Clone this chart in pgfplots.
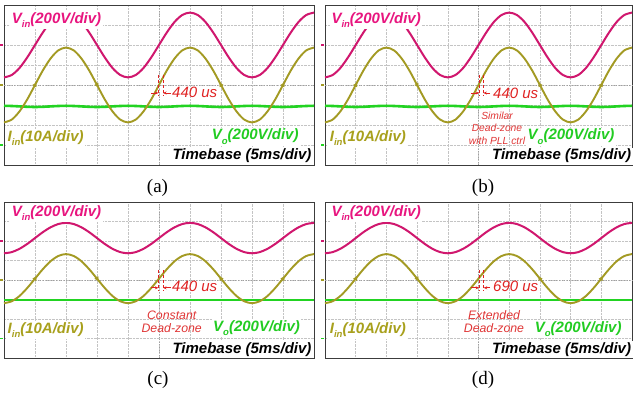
\documentclass[border=0pt]{standalone}
\usepackage{pgfplots}
\pgfplotsset{compat=1.18}
\usepackage{pgfplotstable}
\usepackage{fontspec}
\setmainfont{Liberation Serif}
\newfontfamily\arial{Liberation Sans}
\usetikzlibrary{arrows.meta}

\definecolor{vinc}{HTML}{D0176E}
\definecolor{vint}{HTML}{E8157F}
\definecolor{iinc}{HTML}{A39A23}
\definecolor{iint}{HTML}{A8A01C}
\definecolor{voc}{HTML}{22D322}
\definecolor{vot}{HTML}{22CC22}
\definecolor{redc}{HTML}{E02222}
\definecolor{redt}{HTML}{E03636}
\definecolor{framec}{HTML}{3C3C3C}
\definecolor{gridc}{HTML}{C4C4C4}

\newcommand\sub[1]{\raisebox{-0.28em}{\fontsize{9.5}{10}\selectfont #1}}
\newcommand\lab{\arial\fontsize{15}{15}\selectfont\bfseries\itshape}
\newcommand\ann{\arial\fontsize{15}{15}\selectfont\itshape}

% x (div), Vin, Iin, Vo  -- panels (a),(b)
\pgfplotstableread{
x vin iin vo
0.00 0.38 -1.87 -1.04
0.25 0.50 -1.73 -1.05
0.50 0.85 -1.32 -1.07
0.75 1.38 -0.72 -1.09
1.00 2.00 0.00 -1.10
1.25 2.62 0.72 -1.09
1.50 3.15 1.32 -1.07
1.75 3.50 1.73 -1.05
2.00 3.62 1.87 -1.04
2.25 3.50 1.73 -1.05
2.50 3.15 1.32 -1.07
2.75 2.62 0.72 -1.09
3.00 2.00 0.00 -1.10
3.25 1.38 -0.72 -1.09
3.50 0.85 -1.32 -1.07
3.75 0.50 -1.73 -1.05
4.00 0.38 -1.87 -1.04
4.25 0.50 -1.73 -1.05
4.50 0.85 -1.32 -1.07
4.75 1.38 -0.72 -1.09
5.00 2.00 0.00 -1.10
5.25 2.62 0.72 -1.09
5.50 3.15 1.32 -1.07
5.75 3.50 1.73 -1.05
6.00 3.62 1.87 -1.04
6.25 3.50 1.73 -1.05
6.50 3.15 1.32 -1.07
6.75 2.62 0.72 -1.09
7.00 2.00 0.00 -1.10
7.25 1.38 -0.72 -1.09
7.50 0.85 -1.32 -1.07
7.75 0.50 -1.73 -1.05
8.00 0.38 -1.87 -1.04
8.25 0.50 -1.73 -1.05
8.50 0.85 -1.32 -1.07
8.75 1.38 -0.72 -1.09
9.00 2.00 0.00 -1.10
9.25 2.62 0.72 -1.09
9.50 3.15 1.32 -1.07
9.75 3.50 1.73 -1.05
10.00 3.62 1.87 -1.04
}\tabAB

% panels (c),(d)
\pgfplotstableread{
x vin iin vo
0.00 1.37 -1.19 -1.03
0.25 1.43 -1.09 -1.03
0.50 1.60 -0.82 -1.03
0.75 1.85 -0.41 -1.03
1.00 2.15 0.07 -1.03
1.25 2.45 0.55 -1.03
1.50 2.70 0.96 -1.03
1.75 2.87 1.23 -1.03
2.00 2.93 1.33 -1.03
2.25 2.87 1.23 -1.03
2.50 2.70 0.96 -1.03
2.75 2.45 0.55 -1.03
3.00 2.15 0.07 -1.03
3.25 1.85 -0.41 -1.03
3.50 1.60 -0.82 -1.03
3.75 1.43 -1.09 -1.03
4.00 1.37 -1.19 -1.03
4.25 1.43 -1.09 -1.03
4.50 1.60 -0.82 -1.03
4.75 1.85 -0.41 -1.03
5.00 2.15 0.07 -1.03
5.25 2.45 0.55 -1.03
5.50 2.70 0.96 -1.03
5.75 2.87 1.23 -1.03
6.00 2.93 1.33 -1.03
6.25 2.87 1.23 -1.03
6.50 2.70 0.96 -1.03
6.75 2.45 0.55 -1.03
7.00 2.15 0.07 -1.03
7.25 1.85 -0.41 -1.03
7.50 1.60 -0.82 -1.03
7.75 1.43 -1.09 -1.03
8.00 1.37 -1.19 -1.03
8.25 1.43 -1.09 -1.03
8.50 1.60 -0.82 -1.03
8.75 1.85 -0.41 -1.03
9.00 2.15 0.07 -1.03
9.25 2.45 0.55 -1.03
9.50 2.70 0.96 -1.03
9.75 2.87 1.23 -1.03
10.00 2.93 1.33 -1.03
}\tabCD

\pgfplotsset{
  scopeax/.style={
    scale only axis, anchor=south west,
    xmin=0, xmax=10, ymin=-4, ymax=4,
    xtick={0,...,10}, ytick={-4,...,4},
    xticklabels={}, yticklabels={},
    major tick length=0pt,
    grid=major,
    grid style={densely dotted, draw=gridc, line width=0.6pt},
    extra x ticks={5}, extra y ticks={0},
    extra tick style={grid style={dotted, draw=gray!75, line width=0.7pt}},
    extra x tick labels={}, extra y tick labels={},
    axis line style={draw=framec, line width=0.9pt},
    clip=false,
  },
  vin/.style={vinc, line width=2pt, smooth, no marks},
  iin/.style={iinc, line width=1.9pt, smooth, no marks},
  vo/.style={voc, line width=2.6pt, smooth, no marks},
}

\newcommand\markers{%
  \draw[vinc, line width=1.3pt] (axis cs:-0.13,2) -- (axis cs:-0.02,2);
  \draw[iinc, line width=1.3pt] (axis cs:-0.13,0) -- (axis cs:-0.02,0);
  \draw[voc, line width=1.3pt] (axis cs:-0.13,-3) -- (axis cs:-0.02,-3);
}
\newcommand\dz[2]{%
  \draw[redc, densely dashed, line width=0.6pt] (axis cs:#1,0.5) -- (axis cs:#1,-0.55);
  \draw[redc, densely dashed, line width=0.6pt] (axis cs:#2,0.5) -- (axis cs:#2,-0.55);
  \draw[redc, line width=0.7pt, -{Stealth[length=3.5pt,width=3pt]}] (axis cs:4.75,-0.4) -- (axis cs:#1,-0.4);
  \draw[redc, line width=0.7pt, -{Stealth[length=3.5pt,width=3pt]}] (axis cs:5.38,-0.4) -- (axis cs:#2,-0.4);
}
\tikzset{lbl/.style={inner sep=1.5pt, fill=white}}

\begin{document}
\begin{tikzpicture}
\useasboundingbox[fill=white] (0pt,0pt) rectangle (633pt,396pt);

% (a)
\begin{axis}[scopeax, at={(4pt,231pt)}, width=310pt, height=160pt]
\addplot[vo] table[x=x,y=vo] {\tabAB};
\addplot[iin] table[x=x,y=iin] {\tabAB};
\addplot[only marks, mark=triangle*, mark size=2.2pt, iinc, mark options={rotate=90}] coordinates {(1,0) (3,0) (9,0)};
\addplot[only marks, mark=triangle*, mark size=2.2pt, iinc, mark options={rotate=-90}] coordinates {(7,0)};
\addplot[vin] table[x=x,y=vin] {\tabAB};
\markers
\dz{4.98}{5.13}
\end{axis}

% (b)
\begin{axis}[scopeax, at={(325pt,231pt)}, width=307pt, height=160pt]
\addplot[vo] table[x=x,y=vo] {\tabAB};
\addplot[iin] table[x=x,y=iin] {\tabAB};
\addplot[only marks, mark=triangle*, mark size=2.2pt, iinc, mark options={rotate=90}] coordinates {(1,0) (3,0) (9,0)};
\addplot[only marks, mark=triangle*, mark size=2.2pt, iinc, mark options={rotate=-90}] coordinates {(7,0)};
\addplot[vin] table[x=x,y=vin] {\tabAB};
\markers
\dz{5.02}{5.16}
\end{axis}

% (c)
\begin{axis}[scopeax, at={(4pt,38pt)}, width=310pt, height=156pt]
\addplot[vo] table[x=x,y=vo] {\tabCD};
\addplot[iin] table[x=x,y=iin] {\tabCD};
\addplot[only marks, mark=triangle*, mark size=2.2pt, iinc, mark options={rotate=90}] coordinates {(1,0.07) (3,0.07) (9,0.07)};
\addplot[only marks, mark=triangle*, mark size=2.2pt, iinc, mark options={rotate=-90}] coordinates {(7,0.07)};
\addplot[vin] table[x=x,y=vin] {\tabCD};
\markers
\dz{4.98}{5.13}
\end{axis}

% (d)
\begin{axis}[scopeax, at={(325pt,38pt)}, width=307pt, height=156pt]
\addplot[vo] table[x=x,y=vo] {\tabCD};
\addplot[iin] table[x=x,y=iin] {\tabCD};
\addplot[only marks, mark=triangle*, mark size=2.2pt, iinc, mark options={rotate=90}] coordinates {(1,0.07) (3,0.07) (9,0.07)};
\addplot[only marks, mark=triangle*, mark size=2.2pt, iinc, mark options={rotate=-90}] coordinates {(7,0.07)};
\addplot[vin] table[x=x,y=vin] {\tabCD};
\markers
\dz{5.02}{5.17}
\end{axis}

\begin{scope}[shift={(0pt,396pt)}, x=1pt, y=-1pt]
% (a)
\node[lbl, anchor=base west, text=vint] at (10.2,23.3) {\lab V\sub{in}(200V/div)};
\node[lbl, anchor=base west, text=iint] at (6,141.7) {\lab I\sub{in}(10A/div)};
\node[lbl, anchor=base west, text=vot] at (210.2,140) {\lab V\sub{o}(200V/div)};
\node[lbl, anchor=base east, text=black] at (313.2,160) {\lab Timebase (5ms/div)};
\node[anchor=base west, inner sep=0pt, text=redc] at (172,98) {\ann 440 us};
\node[anchor=base, inner sep=0pt] at (157.5,193) {\fontsize{19}{19}\selectfont (a)};
% (b)
\node[lbl, anchor=base west, text=vint] at (329.8,23.3) {\lab V\sub{in}(200V/div)};
\node[lbl, anchor=base west, text=iint] at (328.2,141.7) {\lab I\sub{in}(10A/div)};
\node[lbl, anchor=base west, text=vot] at (526,140) {\lab V\sub{o}(200V/div)};
\node[lbl, anchor=base east, text=black] at (632.8,160) {\lab Timebase (5ms/div)};
\node[anchor=base west, inner sep=0pt, text=redc] at (493,99) {\ann 440 us};
\node[anchor=center, inner sep=0pt, text=redt] at (497,115.5) {\arial\fontsize{10.3}{12}\selectfont\itshape Similar};
\node[anchor=center, inner sep=0pt, text=redt] at (497,128) {\arial\fontsize{10.3}{12}\selectfont\itshape Dead-zone};
\node[anchor=center, inner sep=0pt, text=redt] at (497,140.5) {\arial\fontsize{10.3}{12}\selectfont\itshape with PLL ctrl};
\node[anchor=base, inner sep=0pt] at (483,193) {\fontsize{19}{19}\selectfont (b)};
% (c)
\node[lbl, anchor=base west, text=vint] at (10.2,216.7) {\lab V\sub{in}(200V/div)};
\node[lbl, anchor=base west, text=iint] at (6,333.3) {\lab I\sub{in}(10A/div)};
\node[lbl, anchor=base west, text=vot] at (211.5,331.7) {\lab V\sub{o}(200V/div)};
\node[lbl, anchor=base east, text=black] at (313.2,353.3) {\lab Timebase (5ms/div)};
\node[anchor=base west, inner sep=0pt, text=redc] at (172,291.7) {\ann 440 us};
\node[anchor=center, inner sep=0pt, text=redt] at (171.7,315) {\arial\fontsize{12.3}{14}\selectfont\itshape Constant};
\node[anchor=center, inner sep=0pt, text=redt] at (171.7,328.3) {\arial\fontsize{12.3}{14}\selectfont\itshape Dead-zone};
\node[anchor=base, inner sep=0pt] at (158,385) {\fontsize{19}{19}\selectfont (c)};
% (d)
\node[lbl, anchor=base west, text=vint] at (329.8,216.7) {\lab V\sub{in}(200V/div)};
\node[lbl, anchor=base west, text=iint] at (328.2,333.3) {\lab I\sub{in}(10A/div)};
\node[lbl, anchor=base west, text=vot] at (533.2,332.7) {\lab V\sub{o}(200V/div)};
\node[lbl, anchor=base east, text=black] at (632.8,353.3) {\lab Timebase (5ms/div)};
\node[anchor=base west, inner sep=0pt, text=redc] at (493,291.7) {\ann 690 us};
\node[anchor=center, inner sep=0pt, text=redt] at (494,315.5) {\arial\fontsize{12.3}{14}\selectfont\itshape Extended};
\node[anchor=center, inner sep=0pt, text=redt] at (494,328) {\arial\fontsize{12.3}{14}\selectfont\itshape Dead-zone};
\node[anchor=base, inner sep=0pt] at (483,385) {\fontsize{19}{19}\selectfont (d)};
\end{scope}
\end{tikzpicture}
\end{document}
